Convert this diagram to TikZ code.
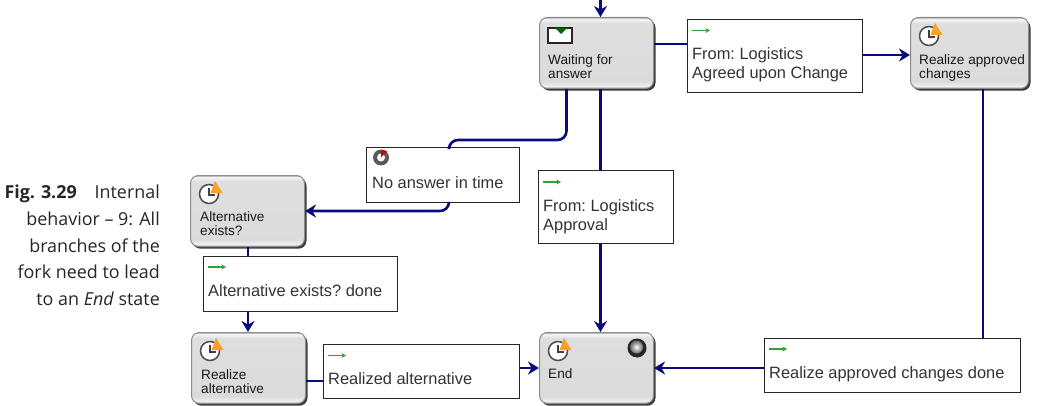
\documentclass[tikz,border=0pt]{standalone}
\usepackage{fontspec}
\setmainfont{Liberation Sans}
\newfontfamily\captionfont{Open Sans}
\usetikzlibrary{arrows.meta, positioning, shadows}
\definecolor{flowblue}{RGB}{10,10,125}
\definecolor{signalgreen}{RGB}{50,160,60}
\definecolor{clockorange}{RGB}{250,160,40}
\pgfdeclareverticalshading{taskbevel}{100bp}{
	color(0bp)=(black!40); color(25bp)=(black!40); color(26.5bp)=(black!6);
	color(30bp)=(black!14); color(71bp)=(black!13); color(74bp)=(black!3);
	color(75bp)=(black!35); color(100bp)=(black!35)
}
\tikzset{%
	taskbox/.style={
		rectangle,
		draw=black!45,
		line width=1pt,
		rounded corners=8pt,
		shading=taskbevel,
		minimum width=114pt,
		minimum height=71pt,
		anchor=north west,
		drop shadow={shadow xshift=2pt, shadow yshift=-2.2pt, fill=black!85, opacity=0.9}
	},
	tasktext/.style={
		anchor=south west,
		inner sep=0pt,
		align=left,
		text=black!90,
		font=\fontsize{13.6}{14.5}\selectfont\frenchspacing
	},
	msgbox/.style={
		rectangle,
		draw=black!85,
		fill=white,
		line width=1.2pt,
		anchor=north west
	},
	msgtext/.style={
		anchor=south west,
		inner sep=0pt,
		align=left,
		text=black!80,
		font=\fontsize{16.4}{19.5}\selectfont\frenchspacing
	},
	flow/.style={draw=flowblue, line width=2.6pt, rounded corners=9pt},
	flowto/.style={flow, -{Stealth[length=11pt, width=13pt]}},
	clockicon/.pic={
		\draw[black!70, fill=white, line width=1.5pt] (0,0) circle (9.5);
		\fill[clockorange] (6,-13) -- (13.5,-1) -- (1.5,-1) -- cycle;
		\draw[black!75, line width=1.3pt] (0,-6) -- (0,1) -- (6,1);
	},
	signalicon/.pic={
		\draw[signalgreen, line width=1.5pt, -{Stealth[length=4.5pt, width=5pt]}] (0,0) -- (18,0);
	},
}

\begin{document}
\begin{tikzpicture}[x=1pt, y=-1pt]
	\useasboundingbox (0,0) rectangle (1064,406);

	% Caption
	\node[anchor=north east, inner sep=0pt, align=right, text=black!85,
		font=\captionfont\fontsize{17.9}{26.6}\selectfont] (caption) at (160,185)
		{\textbf{Fig.\,\,3.29}\quad Internal\\behavior – 9: All\\branches of the\\fork need to lead\\to an \textit{End} state};

	% Tasks
	\node[taskbox] (waiting) at (539,17) {};
	\node[taskbox, minimum width=118pt] (approved) at (910,17) {};
	\node[taskbox] (altexists) at (190,175) {};
	\node[taskbox] (realizealt) at (191,332) {};
	\node[taskbox] (end) at (539,332) {};

	\node[tasktext] (waitingtext) at ([shift={(9,-10)}]waiting.south west) {Waiting for\\answer};
	\node[tasktext] (approvedtext) at ([shift={(9,-7)}]approved.south west) {Realize approved\\changes};
	\node[tasktext] (altexiststext) at ([shift={(10,-11)}]altexists.south west) {Alternative\\exists?};
	\node[tasktext] (realizealttext) at ([shift={(10,-10)}]realizealt.south west) {Realize\\alternative};
	\node[tasktext] (endtext) at ([shift={(9,-25)}]end.south west) {End};

	% Messages
	\node[msgbox, minimum width=175pt, minimum height=73pt] (agreed) at (687,19) {};
	\node[msgbox, minimum width=153pt, minimum height=55pt] (noanswer) at (366,147) {};
	\node[msgbox, minimum width=135pt, minimum height=73pt] (approval) at (538,170) {};
	\node[msgbox, minimum width=194pt, minimum height=55pt] (altdone) at (203,256) {};
	\node[msgbox, minimum width=196pt, minimum height=54pt] (realized) at (323,344) {};
	\node[msgbox, minimum width=256pt, minimum height=54pt] (changesdone) at (764,338) {};

	\node[msgtext] (agreedtext) at ([shift={(5,-11)}]agreed.south west) {From: Logistics\\Agreed upon Change};
	\node[msgtext] (noanswertext) at ([shift={(6,-14)}]noanswer.south west) {No answer in time};
	\node[msgtext] (approvaltext) at ([shift={(5,-10)}]approval.south west) {From: Logistics\\Approval};
	\node[msgtext] (altdonetext) at ([shift={(5,-15)}]altdone.south west) {Alternative exists? done};
	\node[msgtext] (realizedtext) at ([shift={(5,-14)}]realized.south west) {Realized alternative};
	\node[msgtext] (changesdonetext) at ([shift={(5,-11)}]changesdone.south west) {Realize approved changes done};

	% Icons
	\pic at (209,194) {clockicon};
	\pic at (210,351) {clockicon};
	\pic at (558,351) {clockicon};
	\pic at (929,36) {clockicon};
	\draw[black!85, fill=white, line width=1.2pt] (548,28) rectangle (572,43);
	\fill[green!40!black] (555,28) -- (567,28) -- (561,34) -- cycle;
	\fill[black!85] (637,348) circle (9.5);
	\shade[inner color=white, outer color=black!60] (636.5,347) circle (6.5);
	\fill[black!65] (381,157.5) circle (8);
	\fill[white] (381,157.5) circle (4);
	\fill[red!80!black] (381,157.5) -- (381,150) -- (387,151) -- cycle;
	\pic at (692,30.5) {signalicon};
	\pic at (543,182) {signalicon};
	\pic at (208,267) {signalicon};
	\pic at (328,355.5) {signalicon};
	\pic at (769,349) {signalicon};

	% Connectors
	\coordinate (entry) at (600.5,0);
	\coordinate (turnfork) at (449,140);
	\draw[flowto] (entry) -- (entry |- waiting.north);
	\draw[flow] (waiting.east |- 0,44) -- (agreed.west |- 0,44);
	\draw[flowto] (agreed.east |- 0,55) -- (approved.west |- 0,55);
	\draw[flow] ([xshift=-30pt]waiting.south) |- (turnfork) -- (noanswer.north -| turnfork);
	\draw[flowto] (noanswer.south -| turnfork) |- (altexists.east |- 0,211);
	\draw[flow] (entry |- waiting.south) -- (entry |- approval.north);
	\draw[flowto] (entry |- approval.south) -- (entry |- end.north);
	\draw[flow] (altexists.south -| 248,0) -- (altdone.north -| 248,0);
	\draw[flowto] (altdone.south -| 248,0) -- (realizealt.north -| 248,0);
	\draw[flow] (realizealt.east |- 0,381) -- (realized.west |- 0,381);
	\draw[flowto] (realized.east |- 0,368) -- (end.west |- 0,368);
	\draw[flow] (approved.south -| 983,0) -- (changesdone.north -| 983,0);
	\draw[flowto] (changesdone.west |- 0,368) -- (end.east |- 0,368);
\end{tikzpicture}
\end{document}
